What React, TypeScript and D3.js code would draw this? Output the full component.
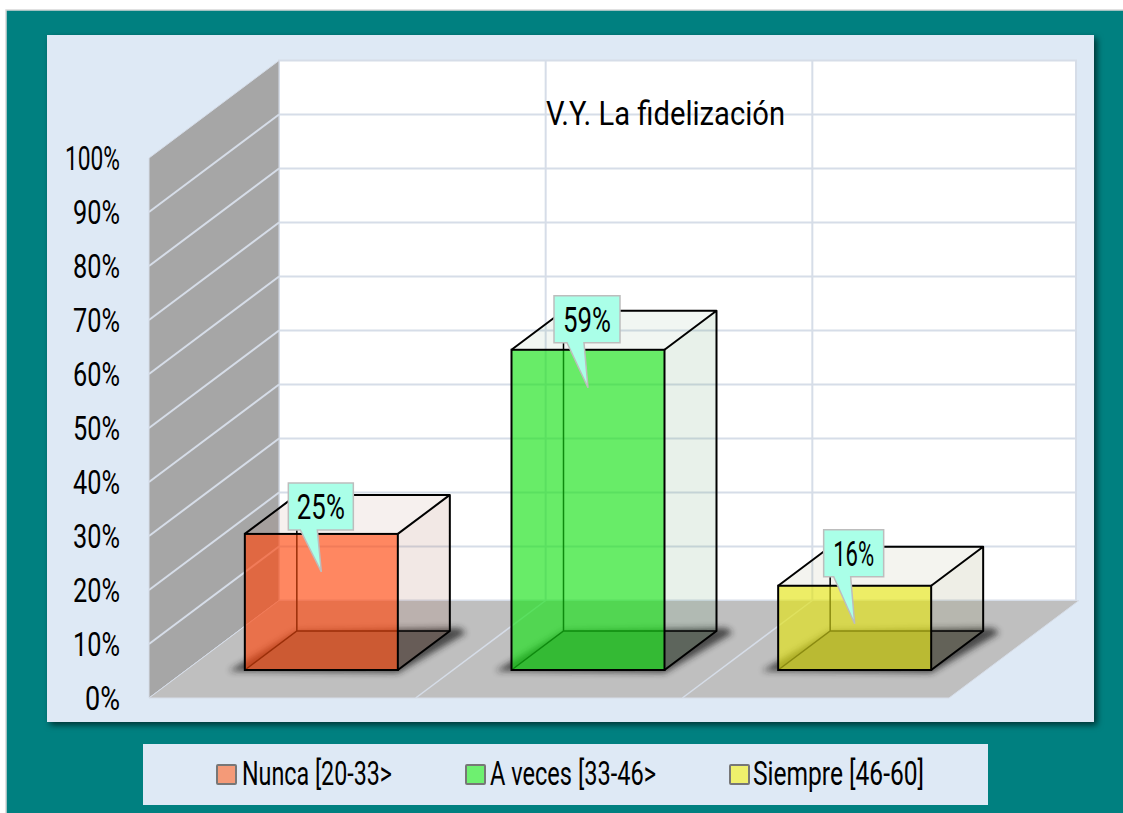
import React from "react";
import * as d3 from "d3";

const categories = ["Nunca [20-33>", "A veces [33-46>", "Siempre [46-60]"];
const values = [25.2, 59.3, 15.6];
const valueLabels = ["25%", "59%", "16%"];
const ticks = [0, 10, 20, 30, 40, 50, 60, 70, 80, 90, 100];
const title = "V.Y. La fidelización";

const frontColors = ["#FF460C", "#17E217", "#E4E414"];
const floorColors = ["#CC5A33", "#34BA34", "#BABA33"];
const edgeColors = ["#9A2E08", "#0E8A0E", "#8A8A10"];
const sideColors = ["#A05A46", "#5F9A6A", "#8A8A50"];
const swatchColors = ["#F49A78", "#6EF070", "#EFF06C"];
const legendSwatchX = [217, 466, 730];
const legendTextX = [242, 490, 753];
const legendTextW = [150, 166, 171];
const calloutW = [65, 66, 60];
const calloutLeft = [33, 34, 31];
const calloutRise = [89, 92, 94];
const labelW = [48, 48, 41];
const FONT = "Roboto";

const y = d3.scaleLinear().domain([0, 100]).range([698, 158]);
const x = d3.scaleBand<string>().domain(categories).range([149, 949]);
const DX = 130;
const DY = 97.5;
const BAR_W = 153;
const BAR_OFF_X = 39;
const BAR_OFF_Y = 28;
const BAR_DX = 52;
const BAR_DY = 39;

const poly = (pts: number[][]) => (d3.line()(pts as [number, number][]) as string) + "Z";

function T({ s, x0, yb, w, size = 34, weight = 400 }: any) {
  return (
    <text x={x0} y={yb} textLength={w} lengthAdjust="spacingAndGlyphs" fontFamily={FONT} fontSize={size} fontWeight={weight} fill="#000">
      {s}
    </text>
  );
}

export default function App() {
  const grid = "#D6DDE8";
  const floorFront = [[149, y(0)], [949, y(0)], [949 + DX, y(0) - DY], [149 + DX, y(0) - DY]];
  const band = x.bandwidth();
  return (
    <svg width={1123} height={813} style={{ position: "absolute", left: 0, top: 0, display: "block" }}>
      <defs>
        <filter id="panelShadow" x="-5%" y="-5%" width="110%" height="110%">
          <feDropShadow dx={3} dy={3} stdDeviation={3} floodColor="#000" floodOpacity={0.6} />
        </filter>
        <filter id="soft" x="-20%" y="-40%" width="140%" height="180%">
          <feGaussianBlur stdDeviation={3} />
        </filter>
      </defs>
      <rect width={1123} height={813} fill="#fff" />
      <rect x={6} y={10} width={1125} height={812} fill="#008080" stroke="#D8D8D8" strokeWidth={1.5} />
      <rect x={47} y={35} width={1047} height={687} fill="#DEE9F5" filter="url(#panelShadow)" />
      <rect x={143} y={744} width={845} height={61} fill="#DEE9F5" />

      {/* back wall */}
      <rect x={149 + DX} y={y(100) - DY} width={797} height={y(0) - y(100)} fill="#fff" stroke={grid} strokeWidth={2} />
      {/* left wall */}
      <path d={poly([[149, y(0)], [149, y(100)], [149 + DX, y(100) - DY], [149 + DX, y(0) - DY]])} fill="#A6A6A6" stroke={grid} strokeWidth={1} />
      {/* floor */}
      <path d={poly(floorFront)} fill="#BFBFBF" stroke={grid} strokeWidth={1} />
      {ticks.slice(1, -1).map((t) => (
        <g key={t}>
          <line x1={149} y1={y(t)} x2={149 + DX} y2={y(t) - DY} stroke={grid} strokeWidth={2} />
          <line x1={149 + DX} y1={y(t) - DY} x2={1076} y2={y(t) - DY} stroke={grid} strokeWidth={2} />
        </g>
      ))}
      {categories.slice(1).map((c) => (
        <g key={c}>
          <line x1={x(c)!} y1={y(0)} x2={x(c)! + DX} y2={y(0) - DY} stroke={grid} strokeWidth={1.5} />
          <line x1={x(c)! + DX} y1={y(0) - DY} x2={x(c)! + DX} y2={y(100) - DY} stroke={grid} strokeWidth={2} />
        </g>
      ))}

      {ticks.map((t) => {
        const s = `${t}%`;
        const w = t === 100 ? 55 : t === 0 ? 35 : 47;
        return <T key={t} s={s} x0={120 - w} yb={y(t) + 12} w={w} />;
      })}

      <T s={title} x0={546} yb={125} w={239} />

      {categories.map((c, i) => {
        const x0 = x(c)! + (band - BAR_W) / 2 + BAR_OFF_X;
        const x1 = x0 + BAR_W;
        const yb = y(0) - BAR_OFF_Y;
        const h = y(0) - y(values[i]);
        const yt = yb - h;
        const yB = yb - BAR_DY;
        const edge = "#000";
        return (
          <g key={c}>
            <path d={poly([[x0 - 16, yb + 1], [x1, yb + 3], [x1 + BAR_DX + 16, yB + 2], [x1 + BAR_DX + 10, yB - 3], [x0 + BAR_DX, yB]])} fill="#222" opacity={0.75} filter="url(#soft)" />
            {/* part of the base seen only through the side face */}
            <path d={poly([[x1, yb], [x1 + BAR_DX, yB], [x1, yB]])} fill="#5E5C5A" />
            <path d={poly([[x1, yb], [x1 + BAR_DX, yB], [x1 + BAR_DX, yt - BAR_DY], [x1, yt]])} fill={sideColors[i]} fillOpacity={0.14} />
            <path d={poly([[x0, yt], [x1, yt], [x1 + BAR_DX, yt - BAR_DY], [x0 + BAR_DX, yt - BAR_DY]])} fill={sideColors[i]} fillOpacity={0.09} />
            <rect x={x0} y={yt} width={BAR_W} height={h} fill={frontColors[i]} fillOpacity={0.65} />
            {/* base seen through the front face */}
            <path d={poly([[x0, yb], [x1, yb], [x1, yB], [x0 + BAR_DX, yB]])} fill={floorColors[i]} />
            {/* hidden edges seen through the front */}
            <path d={`M${x0},${yb}L${x0 + BAR_DX},${yB}L${x1},${yB}M${x0 + BAR_DX},${yB}L${x0 + BAR_DX},${Math.max(yt, yt)}`} fill="none" stroke={edgeColors[i]} strokeWidth={1.5} />
            {/* front edges */}
            <path d={`M${x0 + BAR_DX},${yt}L${x0 + BAR_DX},${yt - BAR_DY}`} fill="none" stroke={edge} strokeWidth={1.5} />
            <path d={`M${x1},${yB}L${x1 + BAR_DX},${yB}`} fill="none" stroke={edge} strokeWidth={1.5} />
            <rect x={x0} y={yt} width={BAR_W} height={h} fill="none" stroke={edge} strokeWidth={2} />
            <path d={`M${x0},${yt}L${x0 + BAR_DX},${yt - BAR_DY}L${x1 + BAR_DX},${yt - BAR_DY}L${x1 + BAR_DX},${yB}L${x1},${yb}M${x1},${yt}L${x1 + BAR_DX},${yt - BAR_DY}`} fill="none" stroke={edge} strokeWidth={2} strokeLinejoin="round" />
          </g>
        );
      })}

      {categories.map((c, i) => {
        const cx = x(c)! + band / 2 + BAR_OFF_X;
        const yb = y(0) - BAR_OFF_Y;
        const yt = yb - (y(0) - y(values[i]));
        const tipX = cx;
        const tipY = yt + 38;
        const l = tipX - calloutLeft[i];
        const t = tipY - calloutRise[i];
        const r = l + calloutW[i];
        const b = t + 47;
        const d = poly([[l, t], [r, t], [r, b], [tipX - 4, b], [tipX, tipY], [tipX - 21, b], [l, b]]);
        return (
          <g key={c}>
            <path d={d} fill="#AAFFE8" stroke="#BDBDBD" strokeWidth={1.5} />
            <T s={valueLabels[i]} x0={(l + r) / 2 - labelW[i] / 2} yb={t + 36} w={labelW[i]} size={35} />
          </g>
        );
      })}

      {categories.map((c, i) => (
        <g key={c}>
          <rect x={legendSwatchX[i]} y={765} width={19} height={19} fill={swatchColors[i]} stroke="#777" strokeWidth={2} rx={1} />
          <T s={c} x0={legendTextX[i]} yb={785} w={legendTextW[i]} />
        </g>
      ))}
    </svg>
  );
}
